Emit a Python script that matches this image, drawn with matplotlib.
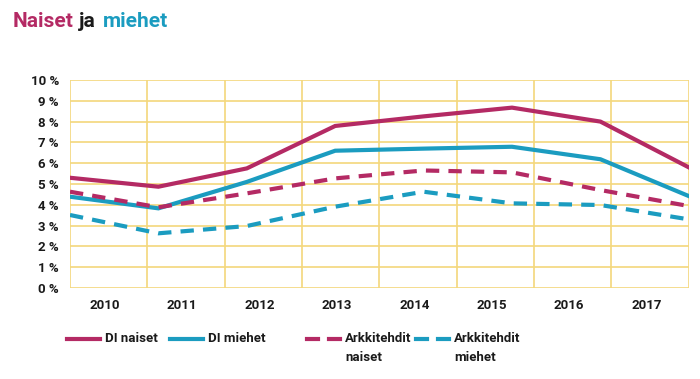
import numpy as np
import matplotlib
matplotlib.use('Agg')
import matplotlib.pyplot as plt
from matplotlib.lines import Line2D

plt.rcParams['font.family'] = ['Roboto', 'DejaVu Sans']
plt.rcParams['font.weight'] = 'bold'

# ---- data ----
years      = ['2010', '2011', '2012', '2013', '2014', '2015', '2016', '2017']
di_naiset  = [5.30, 4.87, 5.75, 7.79, 8.25, 8.67, 8.00, 5.80]
di_miehet  = [4.39, 3.83, 5.10, 6.60, 6.70, 6.79, 6.19, 4.42]
ark_naiset = [4.63, 3.88, 4.55, 5.27, 5.65, 5.56, 4.71, 3.94]
ark_miehet = [3.51, 2.63, 2.98, 3.91, 4.63, 4.07, 3.99, 3.30]
yticks     = list(range(0, 11))

MAG  = '#b42a64'
TEAL = '#1b9cc0'
GRID = '#f4d77c'
TXT  = '#1a1a1a'

fig = plt.figure(figsize=(7.0, 3.79), dpi=100)
ax = fig.add_axes([0.100, 0.240, 0.884, 0.549])

# data points spread evenly over the full width, grid has 8 columns
ncol = len(years)
xs = np.arange(ncol) * ncol / (ncol - 1)

dash = (0, (3.2, 2.2))
ax.plot(xs, di_naiset,  color=MAG,  lw=3.0, solid_joinstyle='miter', zorder=3)
ax.plot(xs, di_miehet,  color=TEAL, lw=3.0, solid_joinstyle='miter', zorder=3)
ax.plot(xs, ark_naiset, color=MAG,  lw=3.0, ls=dash, zorder=3)
ax.plot(xs, ark_miehet, color=TEAL, lw=3.0, ls=dash, zorder=3)

ax.set_xlim(0, ncol)
ax.set_ylim(0, 10)
for y in yticks:
    ax.axhline(y, color=GRID, lw=1.2, zorder=1)
for x in range(ncol + 1):
    ax.axvline(x, color=GRID, lw=1.2, zorder=1)
for s in ax.spines.values():
    s.set_visible(False)

ax.set_yticks(yticks)
ax.set_yticklabels([f'{v} %' for v in yticks], fontsize=9.5, color=TXT, fontweight='bold')
ax.set_xticks(np.arange(ncol) + 0.45)
ax.set_xticklabels(years, fontsize=9.5, color=TXT, fontweight='bold')
ax.tick_params(length=0, pad=8)

# ---- title ----
fig.text(13/700, 1 - 27/379, 'Naiset', color=MAG, fontsize=15, fontweight='bold')
fig.text(79/700, 1 - 27/379, 'ja', color=TXT, fontsize=15, fontweight='bold')
fig.text(103/700, 1 - 27/379, 'miehet', color=TEAL, fontsize=15, fontweight='bold')

# ---- legend ----
ly = 1 - 339/379
items = [(67, MAG, '-', 'DI naiset'),
         (170, TEAL, '-', 'DI miehet'),
         (307, MAG, dash, 'Arkkitehdit\nnaiset'),
         (416, TEAL, dash, 'Arkkitehdit\nmiehet')]
for x0, c, ls, lab in items:
    if ls == '-':
        fig.add_artist(Line2D([x0/700, (x0+33)/700], [ly, ly], color=c, lw=3.0))
    else:
        fig.add_artist(Line2D([x0/700, (x0+11)/700], [ly, ly], color=c, lw=3.0))
        fig.add_artist(Line2D([(x0+22)/700, (x0+33)/700], [ly, ly], color=c, lw=3.0))
    fig.text((x0+38)/700, ly + 7/379, lab, color=TXT, fontsize=9.5, fontweight='bold',
             va='top', linespacing=1.6)

fig.savefig('out.png', dpi=100)
